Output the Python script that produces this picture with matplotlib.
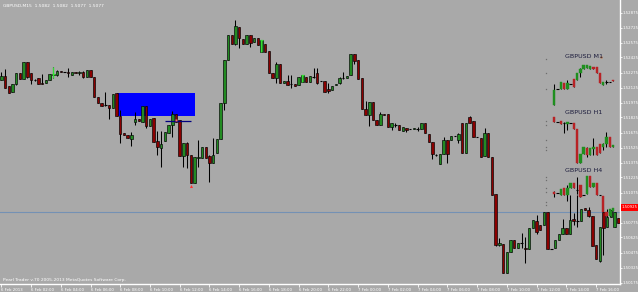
import matplotlib
matplotlib.use("Agg")
import matplotlib.pyplot as plt
from matplotlib.patches import Rectangle
import matplotlib.transforms as mtransforms
import numpy as np

# ---------------- data ----------------
symbol = "GBPUSD,M15"

opens = [1.5220, 1.5224, 1.5214, 1.5208, 1.5216, 1.5227, 1.5221, 1.5238, 1.5227, 1.5220,
         1.5222, 1.5217, 1.5217, 1.5220, 1.5225, 1.5225, 1.5229, 1.5228, 1.5228, 1.5225,
         1.5228, 1.5227, 1.5228, 1.5223, 1.5230, 1.5223, 1.5203, 1.5197, 1.5195, 1.5195,
         1.5192, 1.5207, 1.5184, 1.5167, 1.5165, 1.5161, 1.5178, 1.5181, 1.5178, 1.5194,
         1.5174, 1.5182, 1.5159, 1.5152, 1.5159, 1.5167, 1.5175, 1.5186, 1.5180, 1.5144,
         1.5157, 1.5145, 1.5117, 1.5142, 1.5142, 1.5153, 1.5144, 1.5137, 1.5147, 1.5161,
         1.5197, 1.5240, 1.5265, 1.5256, 1.5273, 1.5261, 1.5256, 1.5265, 1.5258, 1.5262,
         1.5248, 1.5256, 1.5249, 1.5227, 1.5222, 1.5236, 1.5217, 1.5219, 1.5216, 1.5216,
         1.5215, 1.5218, 1.5223, 1.5218, 1.5223, 1.5227, 1.5219, 1.5219, 1.5211, 1.5210,
         1.5215, 1.5217, 1.5222, 1.5222, 1.5225, 1.5246, 1.5240, 1.5222, 1.5191, 1.5185,
         1.5198, 1.5180, 1.5175, 1.5186, 1.5186, 1.5173, 1.5175, 1.5175, 1.5169, 1.5172,
         1.5171, 1.5171, 1.5171, 1.5171, 1.5177, 1.5166, 1.5158, 1.5145, 1.5136, 1.5146,
         1.5160, 1.5160, 1.5164, 1.5160, 1.5177, 1.5147, 1.5183, 1.5179, 1.5163, 1.5162,
         1.5144, 1.5167, 1.5143, 1.5106, 1.5055, 1.5056, 1.5027, 1.5048, 1.5060, 1.5052,
         1.5057, 1.5052, 1.5051, 1.5072, 1.5079, 1.5075, 1.5075, 1.5088, 1.5051, 1.5052,
         1.5060, 1.5066, 1.5072, 1.5066, 1.5081, 1.5079, 1.5079, 1.5092, 1.5090, 1.5084,
         1.5055, 1.5039, 1.5088, 1.5073, 1.5083, 1.5073, 1.5082]
highs = [1.5228, 1.5231, 1.5214, 1.5216, 1.5227, 1.5227, 1.5238, 1.5238, 1.5227, 1.5221,
         1.5222, 1.5226, 1.5220, 1.5226, 1.5233, 1.5230, 1.5229, 1.5228, 1.5232, 1.5228,
         1.5228, 1.5229, 1.5229, 1.5230, 1.5230, 1.5223, 1.5203, 1.5197, 1.5208, 1.5195,
         1.5206, 1.5207, 1.5190, 1.5167, 1.5165, 1.5168, 1.5188, 1.5181, 1.5194, 1.5194,
         1.5181, 1.5182, 1.5169, 1.5169, 1.5168, 1.5175, 1.5189, 1.5186, 1.5180, 1.5157,
         1.5158, 1.5145, 1.5143, 1.5160, 1.5153, 1.5153, 1.5145, 1.5162, 1.5161, 1.5197,
         1.5240, 1.5265, 1.5265, 1.5280, 1.5273, 1.5261, 1.5265, 1.5265, 1.5262, 1.5262,
         1.5260, 1.5256, 1.5249, 1.5227, 1.5238, 1.5236, 1.5219, 1.5225, 1.5225, 1.5216,
         1.5223, 1.5225, 1.5223, 1.5224, 1.5232, 1.5232, 1.5219, 1.5219, 1.5217, 1.5214,
         1.5216, 1.5223, 1.5228, 1.5224, 1.5246, 1.5246, 1.5240, 1.5222, 1.5199, 1.5198,
         1.5198, 1.5180, 1.5188, 1.5186, 1.5186, 1.5177, 1.5177, 1.5175, 1.5173, 1.5172,
         1.5171, 1.5172, 1.5173, 1.5177, 1.5177, 1.5166, 1.5158, 1.5146, 1.5146, 1.5163,
         1.5160, 1.5164, 1.5164, 1.5167, 1.5177, 1.5177, 1.5184, 1.5179, 1.5163, 1.5162,
         1.5172, 1.5167, 1.5143, 1.5106, 1.5062, 1.5056, 1.5048, 1.5060, 1.5060, 1.5057,
         1.5067, 1.5063, 1.5072, 1.5080, 1.5085, 1.5075, 1.5088, 1.5088, 1.5051, 1.5060,
         1.5066, 1.5081, 1.5072, 1.5105, 1.5087, 1.5105, 1.5091, 1.5092, 1.5093, 1.5084,
         1.5055, 1.5073, 1.5093, 1.5091, 1.5090, 1.5088, 1.5082]
lows = [1.5220, 1.5212, 1.5207, 1.5208, 1.5215, 1.5221, 1.5221, 1.5222, 1.5216, 1.5219,
        1.5216, 1.5216, 1.5217, 1.5220, 1.5222, 1.5224, 1.5228, 1.5228, 1.5223, 1.5225,
        1.5227, 1.5225, 1.5222, 1.5223, 1.5223, 1.5203, 1.5197, 1.5194, 1.5194, 1.5181,
        1.5192, 1.5184, 1.5157, 1.5165, 1.5162, 1.5154, 1.5175, 1.5179, 1.5178, 1.5172,
        1.5174, 1.5158, 1.5145, 1.5133, 1.5159, 1.5167, 1.5163, 1.5178, 1.5144, 1.5133,
        1.5132, 1.5117, 1.5117, 1.5133, 1.5142, 1.5142, 1.5118, 1.5137, 1.5147, 1.5161,
        1.5190, 1.5240, 1.5256, 1.5255, 1.5252, 1.5256, 1.5256, 1.5253, 1.5258, 1.5255,
        1.5248, 1.5248, 1.5227, 1.5222, 1.5217, 1.5217, 1.5217, 1.5215, 1.5212, 1.5214,
        1.5215, 1.5218, 1.5218, 1.5218, 1.5222, 1.5216, 1.5219, 1.5208, 1.5207, 1.5210,
        1.5215, 1.5216, 1.5221, 1.5222, 1.5225, 1.5236, 1.5221, 1.5191, 1.5185, 1.5174,
        1.5180, 1.5175, 1.5175, 1.5185, 1.5173, 1.5170, 1.5173, 1.5170, 1.5169, 1.5168,
        1.5171, 1.5171, 1.5169, 1.5171, 1.5167, 1.5158, 1.5141, 1.5144, 1.5136, 1.5146,
        1.5137, 1.5160, 1.5164, 1.5157, 1.5147, 1.5147, 1.5177, 1.5163, 1.5163, 1.5143,
        1.5144, 1.5143, 1.5105, 1.5054, 1.5054, 1.5027, 1.5027, 1.5048, 1.5052, 1.5052,
        1.5052, 1.5037, 1.5051, 1.5072, 1.5066, 1.5070, 1.5075, 1.5051, 1.5051, 1.5052,
        1.5060, 1.5066, 1.5066, 1.5066, 1.5075, 1.5073, 1.5079, 1.5090, 1.5083, 1.5054,
        1.5041, 1.5038, 1.5045, 1.5073, 1.5083, 1.5073, 1.5077]
closes = [1.5224, 1.5212, 1.5207, 1.5216, 1.5227, 1.5221, 1.5238, 1.5223, 1.5220, 1.5220,
          1.5216, 1.5216, 1.5220, 1.5226, 1.5226, 1.5229, 1.5228, 1.5228, 1.5227, 1.5228,
          1.5227, 1.5228, 1.5223, 1.5230, 1.5223, 1.5203, 1.5197, 1.5194, 1.5195, 1.5192,
          1.5206, 1.5184, 1.5166, 1.5165, 1.5162, 1.5165, 1.5181, 1.5179, 1.5194, 1.5174,
          1.5181, 1.5158, 1.5153, 1.5156, 1.5168, 1.5175, 1.5186, 1.5178, 1.5144, 1.5157,
          1.5145, 1.5117, 1.5143, 1.5143, 1.5153, 1.5142, 1.5137, 1.5145, 1.5161, 1.5197,
          1.5240, 1.5265, 1.5256, 1.5274, 1.5262, 1.5256, 1.5265, 1.5257, 1.5262, 1.5255,
          1.5260, 1.5248, 1.5227, 1.5222, 1.5236, 1.5217, 1.5219, 1.5215, 1.5216, 1.5214,
          1.5223, 1.5225, 1.5218, 1.5224, 1.5223, 1.5217, 1.5219, 1.5208, 1.5209, 1.5214,
          1.5216, 1.5222, 1.5222, 1.5224, 1.5246, 1.5239, 1.5221, 1.5191, 1.5185, 1.5198,
          1.5180, 1.5175, 1.5186, 1.5185, 1.5173, 1.5177, 1.5175, 1.5170, 1.5173, 1.5170,
          1.5171, 1.5172, 1.5171, 1.5177, 1.5167, 1.5158, 1.5146, 1.5145, 1.5146, 1.5160,
          1.5146, 1.5164, 1.5164, 1.5166, 1.5147, 1.5177, 1.5177, 1.5163, 1.5163, 1.5143,
          1.5167, 1.5143, 1.5105, 1.5055, 1.5057, 1.5027, 1.5048, 1.5060, 1.5052, 1.5057,
          1.5057, 1.5051, 1.5072, 1.5080, 1.5068, 1.5070, 1.5088, 1.5051, 1.5051, 1.5060,
          1.5066, 1.5072, 1.5066, 1.5080, 1.5079, 1.5079, 1.5091, 1.5090, 1.5084, 1.5054,
          1.5041, 1.5073, 1.5072, 1.5083, 1.5090, 1.5088, 1.5077]
highlight_bars = [14, 70, 81]

# mini charts (other time frames)
m1_open = [1.5195, 1.5211, 1.5211, 1.5217, 1.5211, 1.5216, 1.5221, 1.5220, 1.5227, 1.5231,
           1.5232, 1.5231, 1.5233, 1.5233, 1.5227, 1.5215, 1.5218, 1.5218, 1.5220]
m1_high = [1.5216, 1.5211, 1.5218, 1.5217, 1.5220, 1.5216, 1.5221, 1.5227, 1.5232, 1.5235,
           1.5235, 1.5234, 1.5233, 1.5233, 1.5227, 1.5218, 1.5220, 1.5218, 1.5220]
m1_low = [1.5195, 1.5211, 1.5211, 1.5211, 1.5211, 1.5216, 1.5213, 1.5220, 1.5223, 1.5231,
          1.5232, 1.5231, 1.5231, 1.5227, 1.5217, 1.5215, 1.5216, 1.5218, 1.5219]
m1_close = [1.5210, 1.5211, 1.5218, 1.5211, 1.5217, 1.5216, 1.5213, 1.5227, 1.5231, 1.5235,
            1.5235, 1.5234, 1.5231, 1.5227, 1.5217, 1.5218, 1.5218, 1.5218, 1.5219]

h1_open = [1.5183, 1.5178, 1.5179, 1.5177, 1.5176, 1.5177, 1.5177, 1.5171, 1.5137, 1.5146,
           1.5152, 1.5145, 1.5151, 1.5153, 1.5156, 1.5153, 1.5156, 1.5163, 1.5153]
h1_high = [1.5183, 1.5178, 1.5179, 1.5178, 1.5178, 1.5177, 1.5177, 1.5171, 1.5146, 1.5153,
           1.5153, 1.5152, 1.5162, 1.5153, 1.5156, 1.5157, 1.5168, 1.5163, 1.5155]
h1_low = [1.5178, 1.5178, 1.5176, 1.5167, 1.5170, 1.5177, 1.5171, 1.5137, 1.5137, 1.5146,
          1.5143, 1.5145, 1.5145, 1.5145, 1.5147, 1.5150, 1.5153, 1.5153, 1.5153]
h1_close = [1.5178, 1.5178, 1.5176, 1.5177, 1.5178, 1.5177, 1.5171, 1.5137, 1.5146, 1.5153,
            1.5145, 1.5152, 1.5153, 1.5145, 1.5147, 1.5156, 1.5163, 1.5153, 1.5155]

h4_open = [1.5108, 1.5107, 1.5105, 1.5112, 1.5105, 1.5112, 1.5117, 1.5110, 1.5115, 1.5105,
           1.5106, 1.5124, 1.5113, 1.5117, 1.5105, 1.5104, 1.5088, 1.5084, 1.5089]
h4_high = [1.5109, 1.5107, 1.5111, 1.5112, 1.5115, 1.5117, 1.5117, 1.5123, 1.5115, 1.5105,
           1.5124, 1.5124, 1.5117, 1.5117, 1.5105, 1.5104, 1.5088, 1.5091, 1.5092]
h4_low = [1.5103, 1.5107, 1.5105, 1.5105, 1.5099, 1.5112, 1.5112, 1.5106, 1.5103, 1.5105,
          1.5106, 1.5113, 1.5113, 1.5105, 1.5105, 1.5088, 1.5084, 1.5084, 1.5089]
h4_close = [1.5106, 1.5107, 1.5111, 1.5105, 1.5112, 1.5117, 1.5112, 1.5110, 1.5103, 1.5105,
            1.5124, 1.5113, 1.5117, 1.5105, 1.5105, 1.5088, 1.5084, 1.5091, 1.5092]

mini_titles = ["GBPUSD M1", "GBPUSD H1", "GBPUSD H4"]
mini_title_prices = [1.5244, 1.5187, 1.5130]
mini_level_dots = [[1.5241, 1.5227, 1.5211],
                   [1.5179, 1.5175, 1.5160, 1.5153, 1.5150],
                   [1.5123, 1.5120, 1.5112, 1.5108, 1.5098, 1.5095]]

zone_bars = (31, 52)
zone_prices = (1.5184, 1.5207)
level_bars = (44, 51)
level_price = 1.5179
hline_price = 1.5088
bid_price = 1.50925
arrow_bar, arrow_price = 51, 1.5114
mark_bar, mark_price = 47, 1.5180

ytick_prices = [1.52875, 1.52725, 1.52575, 1.52425, 1.52275, 1.52125, 1.51975,
                1.51825, 1.51675, 1.51525, 1.51375, 1.51225, 1.51075,
                1.50775, 1.50625, 1.50475, 1.50325, 1.50175]
xtick_bars = list(range(0, 161, 8))
xtick_labels = ["6 Feb 2013", "6 Feb 02:00", "6 Feb 04:00", "6 Feb 06:00", "6 Feb 08:00",
                "6 Feb 10:00", "6 Feb 12:00", "6 Feb 14:00", "6 Feb 16:00", "6 Feb 18:00",
                "6 Feb 20:00", "6 Feb 22:00", "7 Feb 00:00", "7 Feb 02:00", "7 Feb 04:00",
                "7 Feb 06:00", "7 Feb 08:00", "7 Feb 10:00", "7 Feb 12:00", "7 Feb 14:00",
                "7 Feb 16:00"]
footer = "Pearl Trader v.70 2005-2013 MetaQuotes Software Corp."

# ---------------- style ----------------
BG = "#A9A9A9"
BULL = "#228B22"
BEAR = "#8B0000"
MINI_BULL = "#1F8F1F"
MINI_BEAR = "#B82225"
W, H = 638, 292
YMIN, YMAX = 1.5016, 1.5300

fig = plt.figure(figsize=(W / 100, H / 100), dpi=100, facecolor=BG)
ax = fig.add_axes([0, 8 / H, 620 / W, 284 / H])
ax.set_facecolor(BG)


def draw_candles(a, o, h, l, c, width, up_col, dn_col, edge, lw_edge):
    o, h, l, c = map(np.asarray, (o, h, l, c))
    x = np.arange(len(o))
    a.vlines(x, l, h, color="black", lw=0.75, zorder=3)
    up = c > o
    dn = c < o
    dj = c == o
    a.bar(x[up], (c - o)[up], bottom=o[up], width=width, color=up_col,
          edgecolor=edge if edge else up_col, linewidth=lw_edge, zorder=4)
    a.bar(x[dn], (o - c)[dn], bottom=c[dn], width=width, color=dn_col,
          edgecolor=edge if edge else dn_col, linewidth=lw_edge, zorder=4)
    a.hlines(c[dj], x[dj] - width / 2, x[dj] + width / 2, color="black", lw=0.8, zorder=4)


draw_candles(ax, opens, highs, lows, closes, 0.66, BULL, BEAR, "black", 0.45)
for b in highlight_bars:
    ax.vlines(b, lows[b], highs[b], color="#32E032", lw=0.9, zorder=5)
    ax.hlines(closes[b], b - 0.33, b + 0.33, color="#32E032", lw=0.9, zorder=5)

# zone, lines, markers
ax.add_patch(Rectangle((zone_bars[0], zone_prices[0]), zone_bars[1] - zone_bars[0],
                       zone_prices[1] - zone_prices[0], facecolor="#0000FF",
                       edgecolor="none", zorder=2))
ax.hlines(level_price, level_bars[0], level_bars[1], color="#000080", lw=0.9, zorder=6)
ax.axhline(hline_price, color="#7491B4", lw=0.8, zorder=1)
ax.plot([arrow_bar], [arrow_price], marker="^", ms=2.2, color="#FF3030", mec="none", zorder=6)
ax.plot([mark_bar], [mark_price], marker="s", ms=1.6, color="#FF7070", mec="none", zorder=6)

ax.set_xlim(-0.35, 166.45)
ax.set_ylim(YMIN, YMAX)

for s in ["top", "left"]:
    ax.spines[s].set_visible(False)
for s in ["right", "bottom"]:
    ax.spines[s].set_color("white")
    ax.spines[s].set_linewidth(1.0)

ax.yaxis.tick_right()
ax.set_yticks(ytick_prices)
ax.set_yticklabels([f"{p:.5f}" for p in ytick_prices])
ax.tick_params(axis="y", colors="white", labelcolor="white", length=1.5, width=0.6,
               labelsize=2.8, pad=0.6)
ax.set_xticks(xtick_bars)
ax.set_xticklabels(xtick_labels)
ax.tick_params(axis="x", colors="white", labelcolor="white", length=2, width=0.6,
               labelsize=2.8, pad=0.6)
for lbl in ax.get_xticklabels():
    lbl.set_horizontalalignment("left")

# bid price label
trans = mtransforms.blended_transform_factory(ax.transAxes, ax.transData)
ax.text(1.003, bid_price, f"{bid_price:.5f}", transform=trans, fontsize=2.8,
        color="white", va="center", ha="left", clip_on=False, zorder=10,
        bbox=dict(boxstyle="square,pad=0.3", fc="#FF0000", ec="none"))

# mini charts
axm = fig.add_axes([540 / W, 8 / H, 80 / W, 284 / H])
axm.set_facecolor("none")
axm.set_xlim(-4.39, 20.15)
axm.set_ylim(YMIN, YMAX)
axm.axis("off")
for (o, h, l, c) in [(m1_open, m1_high, m1_low, m1_close),
                     (h1_open, h1_high, h1_low, h1_close),
                     (h4_open, h4_high, h4_low, h4_close)]:
    draw_candles(axm, o, h, l, c, 0.72, MINI_BULL, MINI_BEAR, None, 0.3)
for t, p, dots in zip(mini_titles, mini_title_prices, mini_level_dots):
    axm.text(9.0, p, t, fontsize=4.6, color="#1C1C3C", ha="center", va="center")
    axm.plot([-2.55] * len(dots), dots, ls="none", marker="s", ms=0.9,
             color="#6E6E6E", mec="none")
axm.plot([14.3], [1.5243], marker="s", ms=1.3, color="#C8641E", mec="none")

# header / footer text
last = len(opens) - 1
fig.text(3 / W, 1 - 6 / H,
         f"{symbol}  {opens[last]:.4f}  {highs[last]:.4f}  {lows[last]:.4f}  {closes[last]:.4f}",
         fontsize=3.2, color="white", va="center", ha="left")
fig.text(3 / W, 1 - 280 / H, footer, fontsize=3.2, color="white", va="center", ha="left")

fig.savefig("out.png", dpi=100, facecolor=BG)
